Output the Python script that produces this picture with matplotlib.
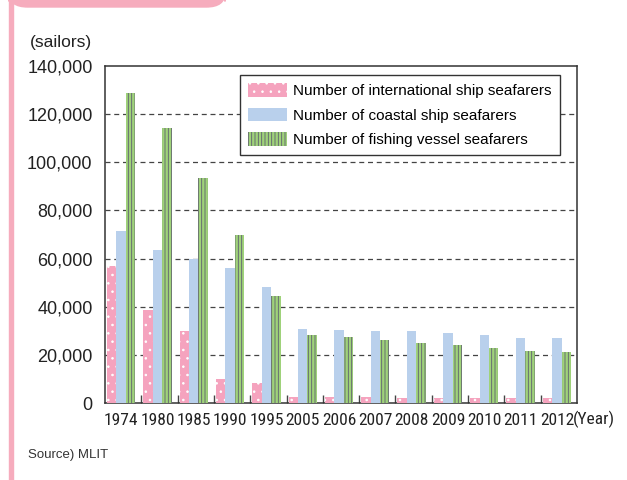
import numpy as np
import matplotlib.pyplot as plt
from matplotlib.patches import FancyBboxPatch, Rectangle
from matplotlib import font_manager

plt.rcParams['font.family'] = ['Liberation Sans', 'DejaVu Sans']
plt.rcParams['hatch.linewidth'] = 0.6

# ── Data ─────────────────────────────────────────────
years = ['1974', '1980', '1985', '1990', '1995', '2005', '2006',
         '2007', '2008', '2009', '2010', '2011', '2012']
international = [56800, 38600, 29900, 10000, 8300, 2500, 2500,
                 2500, 2200, 2200, 2200, 2200, 2200]
coastal = [71300, 63600, 59800, 56100, 48200, 30700, 30300,
           29900, 29900, 29100, 28200, 27000, 27000]
fishing = [128900, 114200, 93500, 69900, 44500, 28200, 27400,
           26200, 24900, 24100, 22800, 21600, 21200]
labels = ['Number of international ship seafarers',
          'Number of coastal ship seafarers',
          'Number of fishing vessel seafarers']

pink = '#f5a3be'
blue = '#b9d0ec'
green = '#9fd27a'
frame_pink = '#f6acbd'

# narrow font for the year labels, if one is installed
names = {f.name for f in font_manager.fontManager.ttflist}
narrow, year_size = 'Liberation Sans', 10.5
for cand in ['Liberation Sans Narrow', 'Roboto Condensed', 'Open Sans Condensed',
             'DejaVu Sans Condensed', 'Arial Narrow']:
    if cand in names:
        narrow, year_size = cand, 12.5
        break

# ── Figure ──────────────────────────────────────────
fig = plt.figure(figsize=(6.27, 4.80), dpi=100)
ax = fig.add_axes([105/627, 77/480, 472/627, 337/480])

x = np.arange(len(years))
w = 0.26
ax.bar(x + 0.055, international, w, align='edge', color=pink,
       edgecolor='white', linewidth=0, hatch='..', label=labels[0], zorder=3)
ax.bar(x + 0.315, coastal, w, align='edge', color=blue,
       linewidth=0, label=labels[1], zorder=3)
ax.bar(x + 0.575, fishing, w, align='edge', color=green,
       edgecolor='#5e5e70', linewidth=0, hatch='|||||', label=labels[2], zorder=3)

ax.set_xlim(0, len(years))
ax.set_ylim(0, 140000)
ax.set_yticks(np.arange(0, 140001, 20000))
ax.set_yticklabels([f'{v:,}' for v in range(0, 140001, 20000)], fontsize=13, color='#222222')
ax.tick_params(axis='y', length=0, pad=9)

ax.set_xticks(x + 0.45)
ax.set_xticklabels(years, fontsize=year_size, color='#222222', family=[narrow, 'DejaVu Sans'])
ax.set_xticks(np.arange(1, len(years)), minor=True)
ax.tick_params(axis='x', which='major', length=0, pad=7)
ax.tick_params(axis='x', which='minor', direction='in', length=6, width=1, color='#444444')

for v in range(20000, 140000, 20000):
    ax.axhline(v, color='#444444', lw=0.9, ls=(0, (4, 3)), zorder=1)

for s in ax.spines.values():
    s.set_color('#333333')
    s.set_linewidth(1.1)

fig.text(573/627, 1 - 419/480, '(Year)', fontsize=year_size, color='#222222',
         ha='left', va='center', family=[narrow, 'DejaVu Sans'])
fig.text(30/627, 1 - 42/480, '(sailors)', fontsize=12.5, color='#222222', va='center')
fig.text(28/627, 1 - 455/480, 'Source) MLIT', fontsize=9.5, color='#333333', va='center')

leg = ax.legend(loc='upper left', bbox_to_anchor=(135/472, 1 - 9/337), fontsize=11,
                frameon=True, fancybox=False, framealpha=1, edgecolor='#333333',
                handlelength=2.5, handleheight=1.0, handletextpad=0.45,
                labelspacing=0.6, borderpad=0.55, borderaxespad=0)
leg.get_frame().set_linewidth(1.0)

# ── Pink frame ──────────────────────────────────────
fig.patches.append(Rectangle((9/627, 0), 3.5/627, 1, transform=fig.transFigure,
                             color=frame_pink, zorder=0))
fig.patches.append(FancyBboxPatch((9/627, 1 - 7/480), 216/627, 20/480,
                                  boxstyle='round,pad=0,rounding_size=0.03',
                                  transform=fig.transFigure, color=frame_pink, zorder=0))

fig.savefig('out.png', dpi=100)
